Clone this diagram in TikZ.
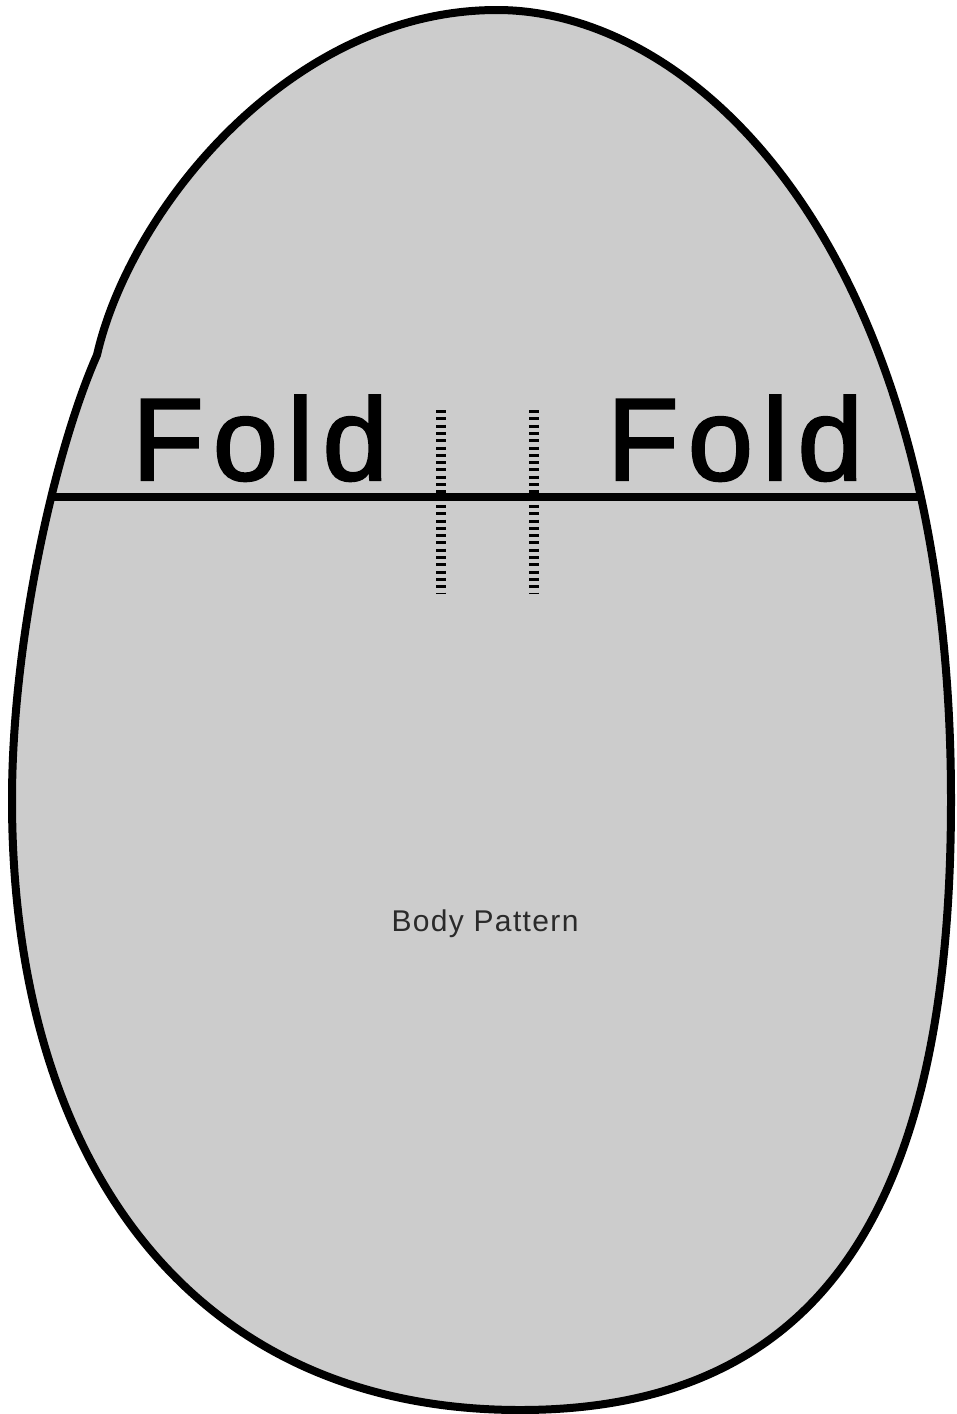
\documentclass[tikz,border=0pt]{standalone}
\usepackage{fontspec}
\setmainfont{Liberation Sans}
\newfontfamily\foldfont[LetterSpace=8,FakeBold=2]{Liberation Sans}
\newfontfamily\labelfont[LetterSpace=4.5]{Liberation Sans}
\definecolor{eggfill}{HTML}{CCCCCC}
\definecolor{labelgray}{HTML}{2A2A2A}
\tikzset{
  egg/.style={draw=black, line width=8pt, fill=eggfill, line join=round},
  foldline/.style={draw=black, line width=8pt},
  stitch/.style={draw=black, line width=10pt, dash pattern=on 3pt off 4.3pt},
  foldtext/.style={inner sep=0pt, anchor=base west, font=\foldfont\fontsize{117}{117}\selectfont},
  bodytext/.style={inner sep=0pt, font=\labelfont\fontsize{30}{30}\selectfont, text=labelgray}
}
\begin{document}
\begin{tikzpicture}[x=1pt,y=-1pt]
\useasboundingbox (0,0) rectangle (957,1414);
\coordinate (top) at (497,10);
\coordinate (right) at (951,800);
\coordinate (bottom) at (520,1410);
\coordinate (left) at (12,800);
\coordinate (kink) at (97,355);
\path[egg] (top) .. controls (697,10) and (951,250) .. (right)
  .. controls (951,1180) and (840,1410) .. (bottom)
  .. controls (190,1410) and (12,1160) .. (left)
  .. controls (12,640) and (55,450) .. (kink)
  .. controls (130,210) and (290,10) .. (top) -- cycle;
\coordinate (fl) at (54,497);
\coordinate (fr) at (920,497);
\draw[foldline] (fl) -- (fr);
\coordinate (s1t) at (441,410);
\coordinate (s1b) at (441,593);
\coordinate (s2t) at (534,410);
\coordinate (s2b) at (534,593);
\draw[stitch] (s1t) -- (s1b);
\draw[stitch] (s2t) -- (s2b);
\node[foldtext] (foldL) at (132,480) {Fold};
\node[foldtext] (foldR) at (607,480) {Fold};
\node[bodytext] (body) at (485,924) {Body Pattern};
\end{tikzpicture}
\end{document}
